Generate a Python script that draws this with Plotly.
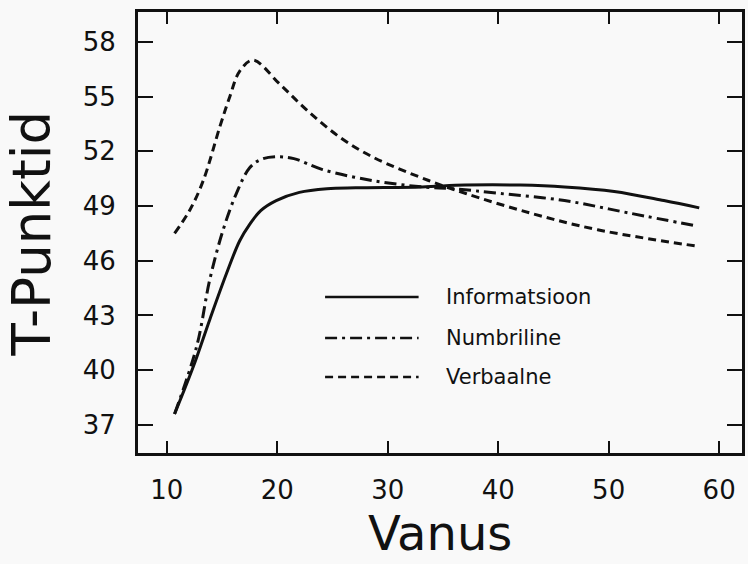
import plotly.graph_objects as go

# ---- data ----
info_x = [10.7, 12.4, 13.9, 15.4, 16.6, 17.5, 18.5, 19.9, 22.0, 24.5, 27.1, 33.1, 37.0, 42.0, 46.0, 50.5, 55.0, 58.2]
info_y = [37.6, 40.2, 42.8, 45.3, 47.1, 48.0, 48.75, 49.3, 49.75, 49.95, 50.0, 50.05, 50.15, 50.15, 50.05, 49.8, 49.3, 48.9]

numb_x = [10.7, 12.7, 13.9, 15.1, 16.3, 17.5, 18.5, 19.9, 21.5, 24.1, 28.6, 33.1, 36.0, 40.0, 46.0, 52.0, 58.0]
numb_y = [37.6, 41.3, 45.0, 47.7, 49.7, 51.1, 51.55, 51.7, 51.6, 51.0, 50.4, 50.05, 49.95, 49.7, 49.3, 48.6, 47.9]

verb_x = [10.7, 12.1, 13.3, 14.8, 15.7, 16.6, 17.8, 20.2, 22.6, 25.6, 28.6, 33.7, 37.0, 43.0, 49.0, 58.0]
verb_y = [47.5, 48.8, 50.4, 53.35, 55.0, 56.4, 57.0, 55.7, 54.3, 52.8, 51.7, 50.4, 49.7, 48.6, 47.7, 46.8]

series_names = ["Informatsioon", "Numbriline", "Verbaalne"]
x_ticks = [10, 20, 30, 40, 50, 60]
y_ticks = [37, 40, 43, 46, 49, 52, 55, 58]
x_title = "Vanus"
y_title = "T-Punktid"

INK = "#111111"
BG = "#f9f9f9"
FONT = "DejaVu Sans"

W, H = 748, 564
ML, MR, MT, MB = 138, 3, 12, 111
PW, PH = W - ML - MR, H - MT - MB


def px_x(px):
    return (px - ML) / PW


def px_y(py):
    return (H - MB - py) / PH


dashes = ["solid", "12px,5px,3px,5px", "8px,5px"]

fig = go.Figure()
for (xs, ys), name, dash in zip([(info_x, info_y), (numb_x, numb_y), (verb_x, verb_y)], series_names, dashes):
    fig.add_trace(go.Scatter(
        x=xs, y=ys, mode="lines", name=name, showlegend=False,
        line=dict(color=INK, width=3, dash=dash, shape="spline", smoothing=1.0),
    ))

# custom legend (line samples + labels)
legend_rows = [297, 338, 377]
for name, dash, ry in zip(series_names, dashes, legend_rows):
    fig.add_shape(type="line", xref="paper", yref="paper",
                  x0=px_x(326), x1=px_x(420), y0=px_y(ry), y1=px_y(ry),
                  line=dict(color=INK, width=2.5, dash=dash))
    fig.add_annotation(text=name, xref="paper", yref="paper",
                       x=px_x(446), y=px_y(ry), xanchor="left", yanchor="middle",
                       showarrow=False, font=dict(family=FONT, size=21, color=INK))

# axis titles
fig.add_annotation(text=x_title, xref="paper", yref="paper",
                   x=px_x(442), y=px_y(563), xanchor="center", yanchor="bottom",
                   showarrow=False, font=dict(family=FONT, size=48, color=INK))
fig.add_annotation(text=y_title, xref="paper", yref="paper",
                   x=px_x(30), y=px_y(234), xanchor="center", yanchor="middle",
                   textangle=-90, showarrow=False,
                   font=dict(family=FONT, size=53, color=INK))

axis_common = dict(showgrid=False, zeroline=False, showline=True, linecolor=INK,
                   linewidth=3, mirror="ticks", ticks="inside", tickcolor=INK,
                   tickwidth=2, tickfont=dict(family=FONT, size=26, color=INK))

fig.update_xaxes(range=[7.39, 62.07], tickvals=x_ticks, ticktext=[str(v) for v in x_ticks],
                 ticklen=12, ticklabelstandoff=12, **axis_common)
fig.update_yaxes(range=[35.46, 59.64], tickvals=y_ticks, ticktext=[str(v) for v in y_ticks],
                 ticklen=15, ticklabelstandoff=14, **axis_common)

fig.update_layout(width=W, height=H, margin=dict(l=ML, r=MR, t=MT, b=MB, pad=0),
                  paper_bgcolor=BG, plot_bgcolor=BG, showlegend=False,
                  font=dict(family=FONT, color=INK))

fig.write_html("out.html", config={"displayModeBar": False},
               post_script="document.body.style.margin='0';document.body.style.padding='0';"
                           "document.body.style.overflow='hidden';")
